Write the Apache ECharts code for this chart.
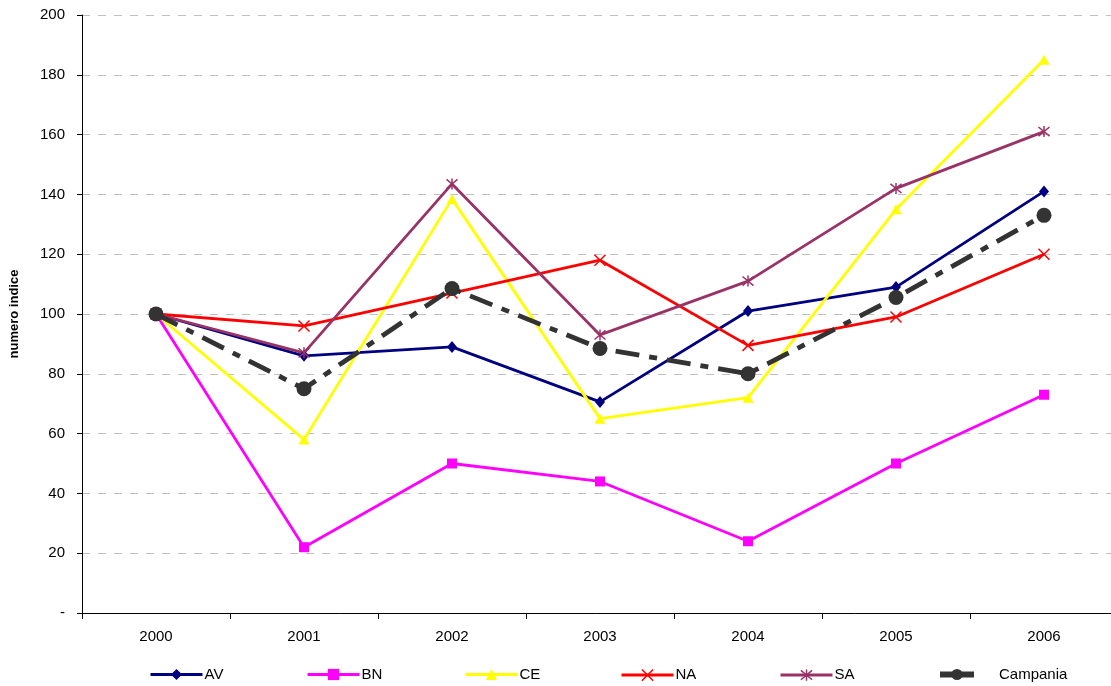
<!DOCTYPE html>
<html><head><meta charset="utf-8">
<script src="https://cdn.jsdelivr.net/npm/echarts@6/dist/echarts.min.js"></script>
<style>html,body{margin:0;padding:0;background:#fff}#c{width:1111px;height:686px}</style>
</head><body><div id="c"></div>
<script>
const years = ['2000','2001','2002','2003','2004','2005','2006'];
const AV = [100, 86, 89, 70.6, 101, 109, 141];
const BN = [100, 22, 50, 44, 24, 50, 73];
const CE = [100, 58, 138.5, 65, 72, 135, 185];
const NA = [100, 96, 107, 118, 89.5, 99, 120];
const SA = [100, 87, 143.5, 93, 111, 142, 161];
const Campania = [100, 75, 108.5, 88.5, 80, 105.5, 133];
const seriesNames = ['AV','BN','CE','NA','SA','Campania'];
const yTicks = {min:0, max:200, interval:20};

const crossPath = 'path://M0,0L10,10M10,0L0,10';
const starPath = 'path://M0,0L10,10M10,0L0,10M5,-1L5,11';
const colors = {AV:'#000080', BN:'#FF00FF', CE:'#FFFF00', NA:'#FF0000', SA:'#993366', Campania:'#333333'};

function mk(name, data, symbol, size, extra) {
  const color = colors[name];
  return Object.assign({
    name, type:'line', data, symbol, symbolSize:size, showSymbol:true,
    lineStyle:{color, width:2.8}, itemStyle:{color, borderColor:color, borderWidth:0},
    emphasis:{disabled:true}, z:2, animation:false
  }, extra||{});
}
const series = [
  mk('AV', AV, 'diamond', [10,12]),
  mk('BN', BN, 'rect', 10),
  mk('CE', CE, 'triangle', [11,10]),
  mk('NA', NA, crossPath, 11, {itemStyle:{color:'none', borderColor:colors.NA, borderWidth:1.5}}),
  mk('SA', SA, starPath, 11, {itemStyle:{color:'none', borderColor:colors.SA, borderWidth:1.5}}),
  mk('Campania', Campania, 'circle', 15, {lineStyle:{color:colors.Campania, width:4.8, type:[24,10,8,10]}, itemStyle:{color:colors.Campania}, z:3})
];
const legendLeft = [149, 306, 464, 620, 779, 937];
const legends = seriesNames.map((n,i)=>{
  const isX = (n==='NA'||n==='SA');
  const isC = n==='Campania';
  return {
    data:[{name:n, itemStyle: isX ? {color:'none', borderColor:colors[n], borderWidth:1.5} : {color:colors[n], borderColor:colors[n]}}],
    left:legendLeft[i], top:667, itemWidth: isC?34:52, itemHeight:14,
    lineStyle:{width: isC?6:3, type:'solid', color:colors[n]},
    itemGap:0, textStyle:{fontFamily:'Liberation Sans, Arial', fontSize:15, color:'#000', padding:[0,0,0, isC?20:-3]},
    selectedMode:false, padding:0
  };
});
const chart = echarts.init(document.getElementById('c'));
chart.setOption({
  animation:false,
  legend: legends,
  grid:{left:82, top:15, width:1036, height:598, containLabel:false, outerBoundsMode:'none'},
  xAxis:{type:'category', data:years, boundaryGap:true,
    axisLine:{lineStyle:{color:'#000', width:1}},
    axisTick:{show:true, length:6, lineStyle:{color:'#000'}},
    axisLabel:{color:'#000', fontFamily:'Liberation Sans, Arial', fontSize:15, margin:16}},
  yAxis:{type:'value', min:yTicks.min, max:yTicks.max, interval:yTicks.interval,
    name:'numero indice', nameLocation:'middle', nameGap:61, nameRotate:90,
    nameTextStyle:{fontFamily:'Liberation Sans, Arial', fontWeight:'bold', fontSize:13, color:'#000'},
    axisLine:{show:true, lineStyle:{color:'#000', width:1}},
    axisTick:{show:true, inside:false, length:5, lineStyle:{color:'#000'}},
    axisLabel:{color:'#000', fontFamily:'Liberation Sans, Arial', fontSize:15, margin:17,
      formatter:v=> v===0 ? '-' : String(v)},
    splitLine:{show:true, lineStyle:{color:'#c0c0c0', type:[8,8], width:1}}},
  series
});
</script></body></html>
